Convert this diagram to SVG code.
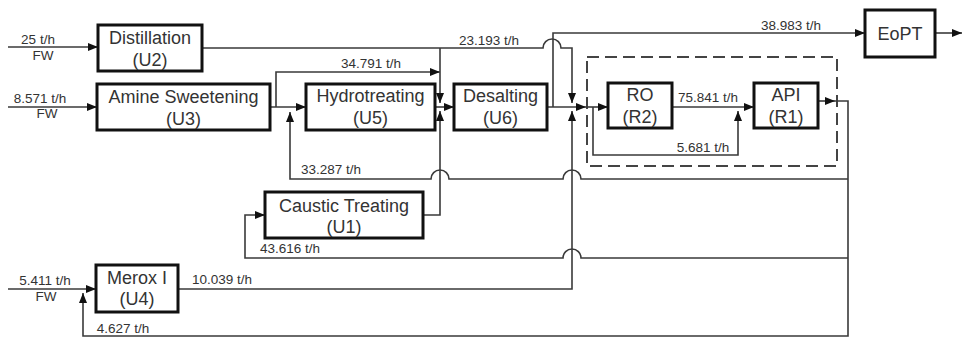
<svg xmlns="http://www.w3.org/2000/svg" width="962" height="338" viewBox="0 0 962 338">
<style>
.box{fill:#fff;stroke:#111;stroke-width:3}
.lbl{font-family:"Liberation Sans",Arial,sans-serif;font-size:18px;fill:#333;text-anchor:middle}
.flow{font-family:"Liberation Sans",Arial,sans-serif;font-size:13.5px;fill:#333;text-anchor:middle}
.c{fill:none;stroke:#3a3a3a;stroke-width:1.6}
.a{marker-end:url(#arr)}
.dash{fill:none;stroke:#444;stroke-width:2;stroke-dasharray:12 6}
</style>
<defs>
<marker id="arr" markerUnits="userSpaceOnUse" markerWidth="10" markerHeight="8" viewBox="0 0 10 8" refX="10" refY="4" orient="auto">
<path d="M0,0 L10,4 L0,8 z" fill="#111"/>
</marker>
</defs>
<rect width="962" height="338" fill="#fff"/>
<rect class="dash" x="587" y="57" width="250" height="109"/>
<g id="connectors">
<path class="c a" d="M8,47 H98"/>
<path class="c a" d="M8,107 H97"/>
<path class="c a" d="M8,289 H96"/>
<path class="c a" d="M270,107 H306"/>
<path class="c a" d="M276,107 V72 H440"/>
<path class="c a" d="M202,48 H543 A9,9 0 0 1 561,48 H572 V103"/>
<path class="c a" d="M440,48 V103"/>
<path class="c a" d="M423,215 H440 V111"/>
<path class="c a" d="M435,107 H454"/>
<path class="c a" d="M547,107 H586"/>
<path class="c a" d="M586,107 H608"/>
<path class="c a" d="M553,107 V33 H865"/>
<path class="c a" d="M178,289 H572 V111"/>
<path class="c a" d="M672,107 H754"/>
<path class="c a" d="M593,107 V155 H738 V111"/>
<path class="c a" d="M818,101 H835"/>
<path class="c a" d="M835,101 H848 V336 H83 V293"/>
<path class="c a" d="M848,179 H581 A9,9 0 0 0 563,179 H449 A9,9 0 0 0 431,179 H290 V112"/>
<path class="c a" d="M848,258 H581 A9,9 0 0 0 563,258 H245 V215 H265"/>
<path class="c a" d="M935,33 H962"/>
</g>
<g id="U2"><rect class="box" x="98" y="25" width="104" height="46"/><text class="lbl" x="150" y="44">Distillation</text><text class="lbl" x="150" y="66">(U2)</text></g>
<g id="U3"><rect class="box" x="97" y="84" width="173" height="46"/><text class="lbl" x="183.5" y="103">Amine Sweetening</text><text class="lbl" x="183.5" y="125">(U3)</text></g>
<g id="U5"><rect class="box" x="306" y="84" width="129" height="46"/><text class="lbl" x="370.5" y="102">Hydrotreating</text><text class="lbl" x="370.5" y="124">(U5)</text></g>
<g id="U6"><rect class="box" x="454" y="84" width="93" height="46"/><text class="lbl" x="500.5" y="102">Desalting</text><text class="lbl" x="500.5" y="124">(U6)</text></g>
<g id="R2"><rect class="box" x="608" y="83" width="64" height="45"/><text class="lbl" x="640" y="101">RO</text><text class="lbl" x="640" y="123">(R2)</text></g>
<g id="R1"><rect class="box" x="754" y="83" width="64" height="45"/><text class="lbl" x="786" y="101">API</text><text class="lbl" x="786" y="123">(R1)</text></g>
<g id="EoPT"><rect class="box" x="865" y="10" width="70" height="47"/><text class="lbl" x="900" y="40">EoPT</text></g>
<g id="U1"><rect class="box" x="265" y="192" width="158" height="46"/><text class="lbl" x="344" y="212">Caustic Treating</text><text class="lbl" x="344" y="233">(U1)</text></g>
<g id="U4"><rect class="box" x="96" y="265" width="82" height="47"/><text class="lbl" x="137" y="284">Merox I</text><text class="lbl" x="137" y="305">(U4)</text></g>
<g id="labels">
<text class="flow" x="38" y="44">25 t/h</text><text class="flow" x="43" y="60">FW</text>
<text class="flow" x="40" y="103">8.571 t/h</text><text class="flow" x="47" y="118">FW</text>
<text class="flow" x="45" y="285">5.411 t/h</text><text class="flow" x="46" y="301">FW</text>
<text class="flow" x="371" y="68">34.791 t/h</text>
<text class="flow" x="489" y="45">23.193 t/h</text>
<text class="flow" x="331" y="174">33.287 t/h</text>
<text class="flow" x="290" y="253">43.616 t/h</text>
<text class="flow" x="222" y="284">10.039 t/h</text>
<text class="flow" x="123" y="333">4.627 t/h</text>
<text class="flow" x="791" y="30">38.983 t/h</text>
<text class="flow" x="708" y="102">75.841 t/h</text>
<text class="flow" x="703" y="152">5.681 t/h</text>
</g>
</svg>
